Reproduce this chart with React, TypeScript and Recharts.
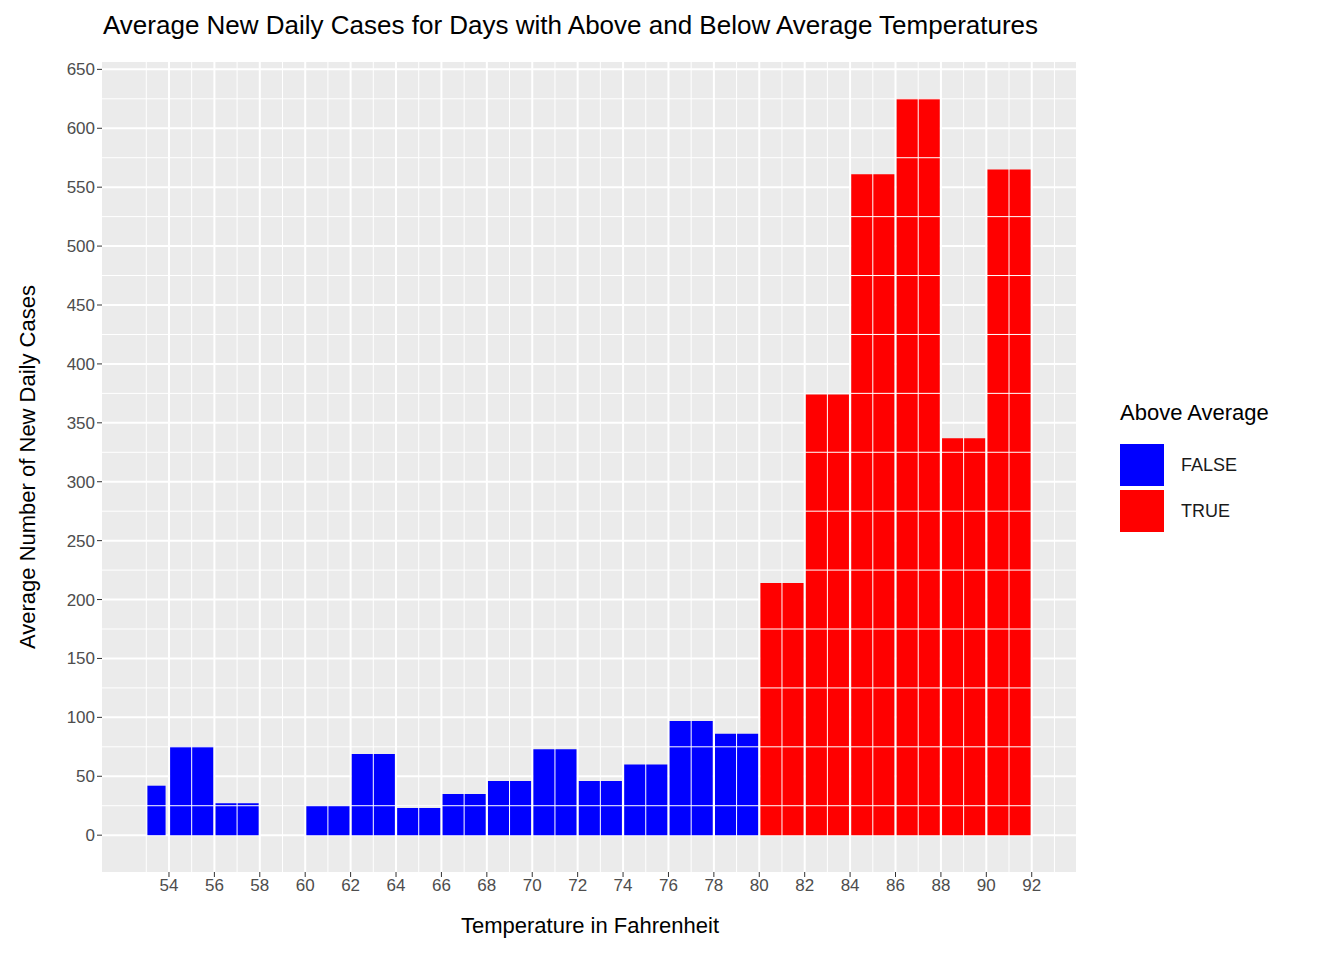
import { ComposedChart, XAxis, YAxis, CartesianGrid, ReferenceArea, ReferenceLine, Line } from 'recharts';

const binStart = [53, 54, 56, 60, 62, 64, 66, 68, 70, 72, 74, 76, 78, 80, 82, 84, 86, 88, 90];
const binEnd = [53.9, 56, 58, 62, 64, 66, 68, 70, 72, 74, 76, 78, 80, 82, 84, 86, 88, 90, 92];
const avgCases = [42, 75, 27, 25, 69, 23, 35, 46, 73, 46, 60, 97, 86, 214, 374, 561, 625, 337, 565];
const aboveAvg = [false, false, false, false, false, false, false, false, false, false, false, false, false, true, true, true, true, true, true];

const xTicks = [54, 56, 58, 60, 62, 64, 66, 68, 70, 72, 74, 76, 78, 80, 82, 84, 86, 88, 90, 92];
const yTicks = [0, 50, 100, 150, 200, 250, 300, 350, 400, 450, 500, 550, 600, 650];
const xMinor = [53, 55, 57, 59, 61, 63, 65, 67, 69, 71, 73, 75, 77, 79, 81, 83, 85, 87, 89, 91, 93];
const yMinor = [25, 75, 125, 175, 225, 275, 325, 375, 425, 475, 525, 575, 625];

const data = binStart.map((s, i) => ({ x: s, y: avgCases[i] }));
const font = '"Liberation Sans", Arial, sans-serif';
const tick = { fill: '#4D4D4D', fontSize: 17, fontFamily: font };

export default function App() {
  return (
    <div style={{ position: 'absolute', left: 0, top: 0, width: 1344, height: 960, background: '#fff', fontFamily: font }}>
      <div style={{ position: 'absolute', left: 103, top: 10, fontSize: 26, color: '#000', whiteSpace: 'nowrap' }}>
        Average New Daily Cases for Days with Above and Below Average Temperatures
      </div>
      <ComposedChart width={1344} height={960} data={data} margin={{ top: 62, right: 268, bottom: 58, left: 42 }}>
        <CartesianGrid fill="#EBEBEB" stroke="#fff" strokeWidth={2} horizontalValues={yTicks} verticalValues={xTicks} />
        {xMinor.map((v) => (
          <ReferenceLine key={'vx' + v} x={v} stroke="#fff" strokeWidth={1} ifOverflow="hidden" />
        ))}
        {yMinor.map((v) => (
          <ReferenceLine key={'hy' + v} y={v} stroke="#fff" strokeWidth={1} />
        ))}
        <XAxis dataKey="x" type="number" domain={[51.05, 93.95]} ticks={xTicks} allowDataOverflow
          height={30} tick={tick} tickSize={5} stroke="#333" axisLine={false} tickLine={{ stroke: '#333' }} />
        <YAxis type="number" domain={[-31.25, 656.25]} ticks={yTicks} allowDataOverflow
          width={60} tick={tick} tickSize={5} axisLine={false} tickLine={{ stroke: '#333' }} />
        {binStart.map((s, i) => (
          <ReferenceArea key={'b' + i} x1={s + 0.05} x2={binEnd[i] - 0.05} y1={0} y2={avgCases[i]}
            fill={aboveAvg[i] ? '#FF0000' : '#0000FF'} fillOpacity={1} stroke="none" ifOverflow="visible" />
        ))}
        <Line dataKey="y" stroke="none" dot={false} activeDot={false} isAnimationActive={false} />
      </ComposedChart>
      <div style={{ position: 'absolute', left: 590, top: 913, transform: 'translateX(-50%)', fontSize: 22, whiteSpace: 'nowrap' }}>
        Temperature in Fahrenheit
      </div>
      <div style={{ position: 'absolute', left: 28, top: 467, transform: 'translate(-50%, -50%) rotate(-90deg)', fontSize: 22, whiteSpace: 'nowrap' }}>
        Average Number of New Daily Cases
      </div>
      <div style={{ position: 'absolute', left: 1120, top: 400, fontSize: 22 }}>Above Average</div>
      {[['FALSE', '#0000FF'], ['TRUE', '#FF0000']].map(([label, c], i) => (
        <div key={label} style={{ position: 'absolute', left: 1120, top: 444 + i * 46, display: 'flex', alignItems: 'center' }}>
          <div style={{ width: 44, height: 42, background: c }} />
          <span style={{ marginLeft: 17, fontSize: 18, color: '#1a1a1a' }}>{label}</span>
        </div>
      ))}
    </div>
  );
}
